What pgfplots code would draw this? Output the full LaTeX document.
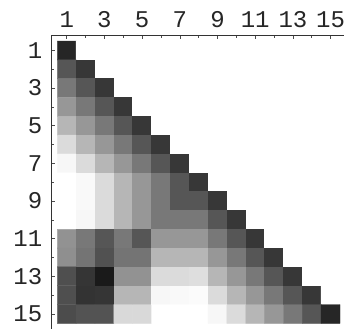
\documentclass[border=0pt]{standalone}
\usepackage{fontspec}
\setmainfont{Liberation Mono}
\newfontfamily\tickfont{Liberation Mono}
\usepackage{pgfplots}
\pgfplotsset{compat=1.18}
\newcommand{\tl}[1]{\tickfont\fontsize{24bp}{25bp}\selectfont #1}
\begin{document}
\begin{tikzpicture}
\begin{axis}[
  at={(0,0)}, anchor=north west,
  scale only axis,
  width=292.8bp, height=294bp,
  xmin=0.166, xmax=15.7, ymin=0.18, ymax=15.8,
  y dir=reverse,
  axis x line=top, axis y line=left,
  axis line style={-, line width=0.8bp, color=black!80},
  xtick={1,3,...,15}, ytick={1,3,...,15},
  xticklabels={1,3,5,7,9,11,13,15},
  yticklabels={1,3,5,7,9,11,13,15},
  minor x tick num=1, minor y tick num=1,
  tick align=inside,
  major tick length=4bp, minor tick length=3bp,
  tick style={line width=0.6bp, color=black!70},
  tick label style={inner sep=0pt, text=black!85, font=\tl},
  xticklabel style={yshift=7bp},
  yticklabel style={xshift=-8.5bp},
  colormap/blackwhite,
  point meta min=0, point meta max=255,
]
\addplot[matrix plot*, mesh/cols=15, mesh/rows=15, point meta=explicit] coordinates {
(1,1)[38] (2,1)[255] (3,1)[255] (4,1)[255] (5,1)[255] (6,1)[255] (7,1)[255] (8,1)[255] (9,1)[255] (10,1)[255] (11,1)[255] (12,1)[255] (13,1)[255] (14,1)[255] (15,1)[255]
(1,2)[85] (2,2)[55] (3,2)[255] (4,2)[255] (5,2)[255] (6,2)[255] (7,2)[255] (8,2)[255] (9,2)[255] (10,2)[255] (11,2)[255] (12,2)[255] (13,2)[255] (14,2)[255] (15,2)[255]
(1,3)[119] (2,3)[85] (3,3)[55] (4,3)[255] (5,3)[255] (6,3)[255] (7,3)[255] (8,3)[255] (9,3)[255] (10,3)[255] (11,3)[255] (12,3)[255] (13,3)[255] (14,3)[255] (15,3)[255]
(1,4)[150] (2,4)[119] (3,4)[85] (4,4)[55] (5,4)[255] (6,4)[255] (7,4)[255] (8,4)[255] (9,4)[255] (10,4)[255] (11,4)[255] (12,4)[255] (13,4)[255] (14,4)[255] (15,4)[255]
(1,5)[181] (2,5)[150] (3,5)[119] (4,5)[85] (5,5)[55] (6,5)[255] (7,5)[255] (8,5)[255] (9,5)[255] (10,5)[255] (11,5)[255] (12,5)[255] (13,5)[255] (14,5)[255] (15,5)[255]
(1,6)[217] (2,6)[181] (3,6)[150] (4,6)[119] (5,6)[85] (6,6)[55] (7,6)[255] (8,6)[255] (9,6)[255] (10,6)[255] (11,6)[255] (12,6)[255] (13,6)[255] (14,6)[255] (15,6)[255]
(1,7)[245] (2,7)[217] (3,7)[181] (4,7)[150] (5,7)[119] (6,7)[85] (7,7)[55] (8,7)[255] (9,7)[255] (10,7)[255] (11,7)[255] (12,7)[255] (13,7)[255] (14,7)[255] (15,7)[255]
(1,8)[255] (2,8)[247] (3,8)[217] (4,8)[181] (5,8)[150] (6,8)[119] (7,8)[85] (8,8)[55] (9,8)[255] (10,8)[255] (11,8)[255] (12,8)[255] (13,8)[255] (14,8)[255] (15,8)[255]
(1,9)[255] (2,9)[247] (3,9)[217] (4,9)[181] (5,9)[150] (6,9)[119] (7,9)[85] (8,9)[85] (9,9)[55] (10,9)[255] (11,9)[255] (12,9)[255] (13,9)[255] (14,9)[255] (15,9)[255]
(1,10)[255] (2,10)[245] (3,10)[217] (4,10)[181] (5,10)[150] (6,10)[119] (7,10)[119] (8,10)[119] (9,10)[85] (10,10)[55] (11,10)[255] (12,10)[255] (13,10)[255] (14,10)[255] (15,10)[255]
(1,11)[145] (2,11)[119] (3,11)[85] (4,11)[119] (5,11)[85] (6,11)[150] (7,11)[150] (8,11)[150] (9,11)[119] (10,11)[85] (11,11)[55] (12,11)[255] (13,11)[255] (14,11)[255] (15,11)[255]
(1,12)[142] (2,12)[115] (3,12)[80] (4,12)[115] (5,12)[115] (6,12)[181] (7,12)[181] (8,12)[181] (9,12)[150] (10,12)[119] (11,12)[85] (12,12)[55] (13,12)[255] (14,12)[255] (15,12)[255]
(1,13)[78] (2,13)[53] (3,13)[26] (4,13)[145] (5,13)[145] (6,13)[217] (7,13)[217] (8,13)[220] (9,13)[181] (10,13)[150] (11,13)[119] (12,13)[85] (13,13)[55] (14,13)[255] (15,13)[255]
(1,14)[78] (2,14)[51] (3,14)[53] (4,14)[181] (5,14)[181] (6,14)[245] (7,14)[247] (8,14)[249] (9,14)[217] (10,14)[181] (11,14)[150] (12,14)[119] (13,14)[85] (14,14)[55] (15,14)[255]
(1,15)[75] (2,15)[82] (3,15)[82] (4,15)[215] (5,15)[215] (6,15)[255] (7,15)[255] (8,15)[255] (9,15)[245] (10,15)[217] (11,15)[181] (12,15)[150] (13,15)[119] (14,15)[85] (15,15)[38]
};
\end{axis}
\pgfresetboundingbox
\path[use as bounding box] (-51bp,35bp) rectangle (293bp,-294bp);
\end{tikzpicture}
\end{document}
